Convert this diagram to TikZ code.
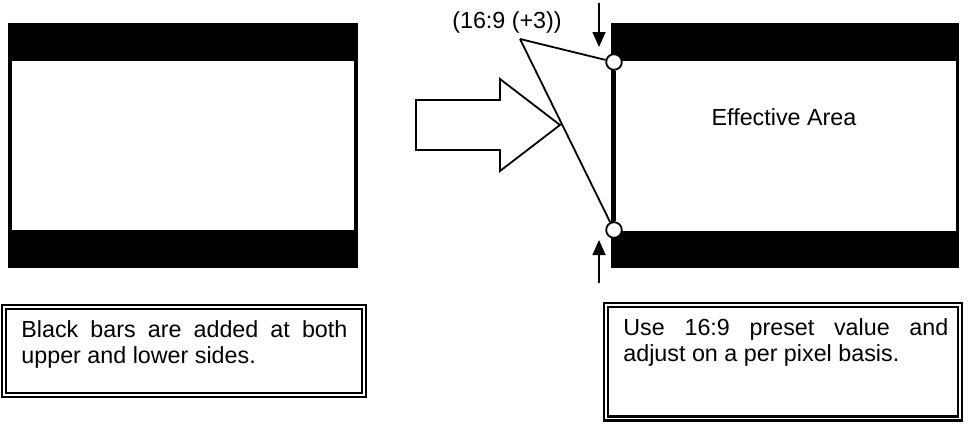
\documentclass[tikz,border=0pt]{standalone}
\usepackage{fontspec}
\setmainfont{Liberation Sans}
\usetikzlibrary{arrows.meta}
\pgfdeclarelayer{bg}
\pgfsetlayers{bg,main}
\begin{document}
\begin{tikzpicture}[x=0.5pt,y=-0.5pt,
  txt/.style={font=\fontsize{11.65pt}{13pt}\selectfont, inner sep=0pt},
  para/.style={txt, align=justify, anchor=north west,
    execute at begin node={\hyphenpenalty=10000\exhyphenpenalty=10000\tolerance=9999\relax}},
  thinline/.style={line width=0.9pt},
  knot/.style={circle, draw, fill=white, line width=0.9pt, minimum size=7.8pt, inner sep=0pt},
  pointer/.style={line width=0.8pt, -{Triangle[length=7.5pt,width=6.5pt]}},
  frame/.style={draw, line width=1.1pt, double=white, double distance=0.9pt},
]
\useasboundingbox (0,0) rectangle (972,428);
% nodes
\node[knot] (ctop) at (614,62) {};
\node[knot] (cbot) at (614,230) {};
\node[txt, anchor=base] (lbl) at (507,28) {(16:9 (+3))};
\coordinate (apex) at (520,39);
\node[txt, anchor=base] (eff) at (784,125) {Effective Area};
\coordinate (dstart) at (599,3);
\coordinate (dtip) at (599,47);
\coordinate (ustart) at (599,283);
\coordinate (utip) at (599,240);
\node[para, text width=163pt] (ltext) at (21,320) {Black bars are added at both upper and lower sides.};
\node[para, text width=162.5pt] (rtext) at (623,318) {Use 16:9 preset value and adjust on a per pixel basis.};
\begin{pgfonlayer}{bg}
% left screen
\fill[black] (8,23) rectangle (358,268);
\fill[white] (12,61) rectangle (354,230);
% right screen
\fill[black] (611,23) rectangle (959,268);
\fill[white] (615,61) rectangle (956,231);
% hollow arrow
\draw[thinline, line join=miter] (416,100) -- (500,100) -- (500,79) -- (560,125) -- (500,171) -- (500,150) -- (416,150) -- cycle;
% connectors
\draw[line width=1.7pt] (ctop) -- (cbot);
\draw[thinline] (apex) -- (ctop);
\draw[thinline] (apex) -- (cbot);
\draw[pointer] (dstart) -- (dtip);
\draw[pointer] (ustart) -- (utip);
% frames
\draw[frame] (4,307) rectangle (364,395);
\draw[frame] (606,305) rectangle (960,418.5);
\end{pgfonlayer}
\end{tikzpicture}
\end{document}
